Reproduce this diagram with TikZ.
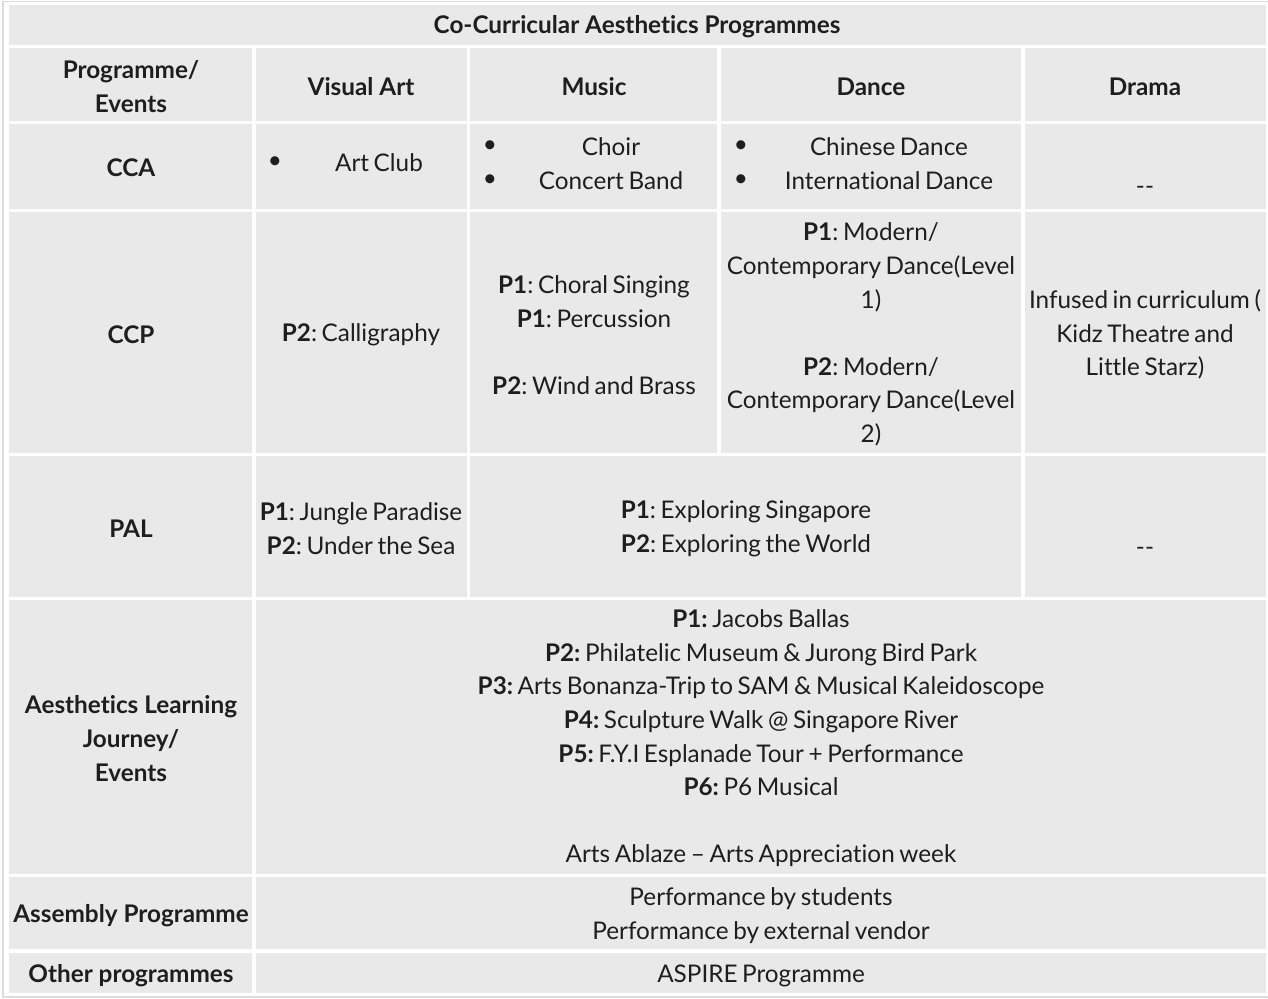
\documentclass[tikz,border=0pt]{standalone}
\usepackage{fontspec}
\setmainfont{Lato}[Ligatures={TeX,NoCommon}]
\frenchspacing
\definecolor{cellgray}{HTML}{E9E9E9}
\definecolor{txtc}{HTML}{1E1E1E}
\definecolor{framec}{HTML}{DCDCDC}
\newcommand\mytxfont{\fontsize{24.3}{33.6}\selectfont\spaceskip 0.19em\relax}
\newcommand\myhdfont{\bfseries\fontsize{24.3}{33.6}\selectfont}
\tikzset{
  cell/.style={fill=cellgray},
  tx/.style={text=txtc, font=\mytxfont, align=center, inner sep=0pt},
  hd/.style={text=txtc, font=\myhdfont, align=center, inner sep=0pt}
}
\begin{document}
\begin{tikzpicture}[x=1pt,y={(0pt,-1pt)}]
\useasboundingbox (0,0) rectangle (1268,998);
\fill[white] (0,0) rectangle (1268,998);
\draw[framec, line width=1.5pt] (3,1.5) -- (1270,1.5);
\draw[framec, line width=1.5pt] (3,1.5) -- (3,997) -- (1270,997);
% title
\fill[cell] (9,5) rectangle (1266,45);
% header
\fill[cell] (9,48) rectangle (252,121);
\fill[cell] (256,48) rectangle (467,121);
\fill[cell] (470,48) rectangle (717,121);
\fill[cell] (721,48) rectangle (1021,121);
\fill[cell] (1025,48) rectangle (1266,121);
% CCA
\fill[cell] (9,124) rectangle (252,209);
\fill[cell] (256,124) rectangle (467,209);
\fill[cell] (470,124) rectangle (717,209);
\fill[cell] (721,124) rectangle (1021,209);
\fill[cell] (1025,124) rectangle (1266,209);
% CCP
\fill[cell] (9,212) rectangle (252,453);
\fill[cell] (256,212) rectangle (467,453);
\fill[cell] (470,212) rectangle (717,453);
\fill[cell] (721,212) rectangle (1021,453);
\fill[cell] (1025,212) rectangle (1266,453);
% PAL
\fill[cell] (9,456) rectangle (252,597);
\fill[cell] (256,456) rectangle (467,597);
\fill[cell] (470,456) rectangle (1021,597);
\fill[cell] (1025,456) rectangle (1266,597);
% ALJ
\fill[cell] (9,600) rectangle (252,874);
\fill[cell] (256,600) rectangle (1266,874);
% Assembly
\fill[cell] (9,877) rectangle (252,949);
\fill[cell] (256,877) rectangle (1266,949);
% Other
\fill[cell] (9,953) rectangle (252,993);
\fill[cell] (256,953) rectangle (1266,993);

\begin{scope}[yshift=-1.5pt]
\node[hd] (title) at (637,25) {Co-Curricular Aesthetics Programmes};
\node[hd] (hprog) at (131,85) {Programme/\\Events};
\node[hd] (hva) at (361,85) {Visual Art};
\node[hd] (hmu) at (594,85) {Music};
\node[hd] (hda) at (871,85) {Dance};
\node[hd] (hdr) at (1145,85) {Drama};

\node[hd] (cca) at (131,166) {CCA};
\node[tx] (b1) at (275,161) {•};
\node[tx] (artclub) at (379,161) {Art Club};
\node[tx] (b2) at (490,145) {•};
\node[tx] (b3) at (490,179) {•};
\node[tx] (ccamu) at (611,162) {Choir\\Concert Band};
\node[tx] (b4) at (741,145) {•};
\node[tx] (b5) at (741,179) {•};
\node[tx] (ccada) at (889,162) {Chinese Dance\\International Dance};
\node[tx] (ccadr) at (1145,189) {-{}-};

\node[hd] (ccp) at (131,333) {CCP};
\node[tx] (ccpva) at (361,333) {\textbf{P2}: Calligraphy};
\node[tx] (ccpmu) at (594,334) {\textbf{P1}: Choral Singing\\\textbf{P1}: Percussion\\\mbox{}\\\textbf{P2}: Wind and Brass};
\node[tx] (ccpda) at (871,333) {\textbf{P1}: Modern/\\Contemporary Dance(Level\\1)\\\mbox{}\\\textbf{P2}: Modern/\\Contemporary Dance(Level\\2)};
\node[tx] (ccpdr) at (1145,333) {Infused in curriculum (\\Kidz Theatre and\\Little Starz)};

\node[hd] (pal) at (131,527) {PAL};
\node[tx] (palva) at (361,527) {\textbf{P1}: Jungle Paradise\\\textbf{P2}: Under the Sea};
\node[tx] (palmd) at (746,527) {\textbf{P1}: Exploring Singapore\\\textbf{P2}: Exploring the World};
\node[tx] (paldr) at (1145,550) {-{}-};

\node[hd] (alj) at (131,737) {Aesthetics Learning\\Journey/\\Events};
\node[tx] (aljtx) at (761,737) {\textbf{P1:} Jacobs Ballas\\\textbf{P2:} Philatelic Museum \& Jurong Bird Park\\\textbf{P3:} Arts Bonanza-Trip to SAM \& Musical Kaleidoscope\\\textbf{P4:} Sculpture Walk @ Singapore River\\\textbf{P5:} F.Y.I Esplanade Tour + Performance\\\textbf{P6:} P6 Musical\\\mbox{}\\Arts Ablaze – Arts Appreciation week};

\node[hd] (asm) at (131,914) {Assembly Programme};
\node[tx] (asmtx) at (761,914) {Performance by students\\Performance by external vendor};

\node[hd] (oth) at (131,974) {Other programmes};
\node[tx] (othtx) at (761,974) {ASPIRE Programme};
\end{scope}
\end{tikzpicture}
\end{document}
